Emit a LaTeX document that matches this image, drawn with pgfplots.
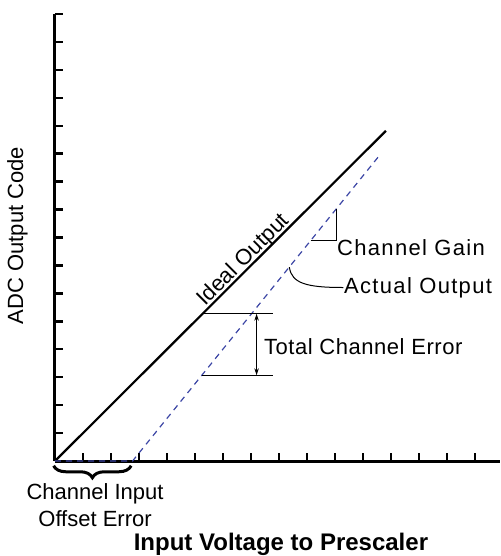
\documentclass[border=0pt]{standalone}
\usepackage{pgfplots}
\pgfplotsset{compat=1.18}
\usepackage{fontspec}
\setmainfont{Liberation Sans}
\usetikzlibrary{arrows.meta,decorations.pathreplacing}
\definecolor{dashblue}{RGB}{60,70,165}
\newcommand{\ann}{\fontsize{22pt}{26.6pt}\selectfont}
\newcommand{\annmid}{\fontsize{22pt}{26.6pt}\selectfont\addfontfeature{LetterSpace=2.5}}
\newcommand{\annsp}{\fontsize{22pt}{26.6pt}\selectfont\addfontfeature{LetterSpace=6}}
\begin{document}
\begin{tikzpicture}
\useasboundingbox (-55pt,-95pt) rectangle (445pt,461pt);
\begin{axis}[
  at={(0pt,0pt)}, anchor=south west,
  scale only axis, width=445pt, height=447pt,
  xmin=0, xmax=15.893, ymin=0, ymax=16,
  axis x line*=bottom, axis y line*=left,
  xtick={1,...,15}, ytick={1,...,16},
  xticklabels={}, yticklabels={},
  tick align=inside, major tick length=8pt,
  tick style={black, line width=2.4pt},
  axis line style={black, line width=3pt},
  clip=false,
]
% ideal output
\addplot[black, line width=2.2pt] coordinates {(0,0) (11.82,11.82)};
% actual output
\addplot[dashblue, line width=1.2pt, dash pattern=on 6pt off 5pt] coordinates {(0,0) (2.77,0) (11.55,10.89)};

% Ideal output label
\node[rotate=45, anchor=base, inner sep=0pt, font=\ann] at (axis cs:6.88,7.04) {Ideal Output};

% Channel gain
\draw[black, line width=1pt] (axis cs:9.13,7.89) -- (axis cs:10.04,7.89) -- (axis cs:10.04,9.01);
\node[anchor=west, inner sep=0pt, font=\annsp] at (axis cs:10.07,7.65) {Channel Gain};

% Actual output callout
\draw[black, line width=1pt] (axis cs:8.37,6.94) .. controls (axis cs:8.45,6.35) and (axis cs:9.0,6.21) .. (axis cs:10.3,6.21);
\node[anchor=west, inner sep=0pt, font=\annsp] at (axis cs:10.32,6.21) {Actual Output};

% Total channel error
\draw[black, line width=1pt] (axis cs:5.3,5.27) -- (axis cs:7.77,5.27);
\draw[black, line width=1pt] (axis cs:5.25,3.07) -- (axis cs:7.77,3.07);
\draw[black, line width=0.9pt, {Stealth[length=7pt,width=4.5pt]}-{Stealth[length=7pt,width=4.5pt]}] (axis cs:7.2,5.27) -- (axis cs:7.2,3.07);
\node[anchor=west, inner sep=0pt, font=\annmid] at (axis cs:7.46,4.08) {Total Channel Error};

% offset brace
\draw[black, line width=3pt, decorate, decoration={brace, mirror, amplitude=12pt}] (axis cs:-0.05,-0.17) -- (axis cs:2.72,-0.17);
\node[align=center, inner sep=0pt, font=\ann] at (axis cs:1.43,-1.57) {Channel Input\\Offset Error};

% axis labels
\node[font=\fontsize{24pt}{28pt}\selectfont\bfseries, inner sep=0pt] at (axis cs:8.07,-3.0) {Input Voltage to Prescaler};
\node[rotate=90, font=\fontsize{22pt}{26pt}\selectfont, inner sep=0pt] at (axis cs:-1.34,8.07) {ADC Output Code};
\end{axis}
\end{tikzpicture}
\end{document}
